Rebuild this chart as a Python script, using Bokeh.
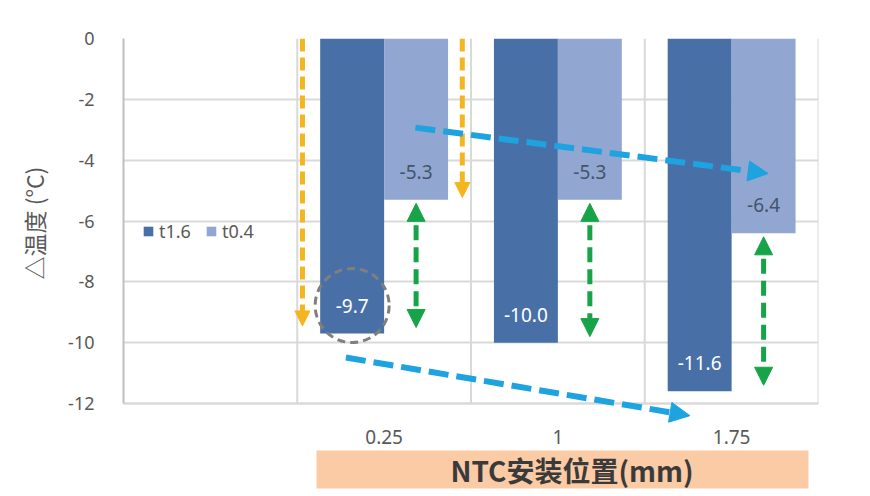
import numpy as np
from bokeh.plotting import figure
from bokeh.models import Range1d, FixedTicker, Arrow, NormalHead, Label, BoxAnnotation, Title
from bokeh.core.properties import value
from bokeh.embed import file_html
from bokeh.resources import INLINE

# ---------------- data ----------------
categories = ["", "0.25", "1", "1.75"]
series_names = ["t1.6", "t0.4"]
t16 = [-9.7, -10.0, -11.6]
t04 = [-5.3, -5.3, -6.4]
y_ticks = [0, -2, -4, -6, -8, -10, -12]
y_tick_labels = ["0", "-2", "-4", "-6", "-8", "-10", "-12"]
x_title = "NTC安装位置(mm)"
y_title = "△温度 (°C)"

FONT = "Noto Sans"
CJK = "Noto Sans CJK SC"
C16 = "#4870A7"
C04 = "#91A7D1"
GRID = "#D9D9D9"
TXT = "#595959"

n = len(categories)
cat_center = np.arange(n) + 0.5          # category i spans [i, i+1]
data_center = cat_center[1:]
bw = 0.368
x16 = data_center - bw / 2
x04 = data_center + bw / 2

# layout (page pixels): frame top, value-axis bottom (-12), frame bottom
W, H = 862, 494
FRAME_TOP, AXIS_Y, FRAME_BOT = 38, 403, 494
BOX_TOP, BOX_BOT = 450, 488
y_min, y_max = min(y_ticks), max(y_ticks)
ppu = (AXIS_Y - FRAME_TOP) / (y_max - y_min)
y_start = y_min - (FRAME_BOT - AXIS_Y) / ppu

p = figure(width=W, height=H, x_range=Range1d(0, n), y_range=Range1d(y_start, y_max),
           output_backend="svg", toolbar_location=None,
           min_border_left=123, min_border_right=44, min_border_top=FRAME_TOP,
           min_border_bottom=H - FRAME_BOT)
p.background_fill_color = "white"
p.border_fill_color = "white"
p.outline_line_color = None

# vertical category gridlines (between categories + right edge)
vx = list(range(1, n + 1))
p.segment(x0=vx, y0=[y_min] * len(vx), x1=vx, y1=[y_max] * len(vx),
          line_color=GRID, line_width=2, level="underlay")

# bars
p.vbar(x=x16, top=0, bottom=t16, width=bw, fill_color=C16, line_color=None, legend_label=series_names[0])
p.vbar(x=x04, top=0, bottom=t04, width=bw, fill_color=C04, line_color=None, legend_label=series_names[1])

# data labels
p.text(x=x16, y=t16, text=[f"{v:.1f}" for v in t16], y_offset=-28, text_align="center",
       text_baseline="middle", text_color="white", text_font=value(FONT), text_font_size="19px")
p.text(x=x04, y=t04, text=[f"{v:.1f}" for v in t04], y_offset=-28, text_align="center",
       text_baseline="middle", text_color="#44546A", text_font=value(FONT), text_font_size="19px")

# dashed circle around first t1.6 label
p.scatter(x=[x16[0]], y=[t16[0] + 28 / ppu], size=74, marker="circle", fill_color=None,
          line_color="#7F7F7F", line_width=3, line_dash="8 5")

# axes
p.yaxis.ticker = FixedTicker(ticks=y_ticks)
p.yaxis.bounds = (y_min, y_max)
p.yaxis.major_label_overrides = {t: l for t, l in zip(y_ticks, y_tick_labels)}
p.yaxis.major_tick_line_color = None
p.yaxis.minor_tick_line_color = None
p.yaxis.axis_line_color = "#BFBFBF"
p.yaxis.axis_line_width = 2
p.yaxis.major_label_text_font = FONT
p.yaxis.major_label_text_font_size = "18px"
p.yaxis.major_label_text_color = TXT
p.yaxis.major_label_standoff = 23

# y-axis title as a side title (lets it be positioned along the value axis)
p.add_layout(Title(text=y_title, align="left", offset=FRAME_BOT - 279, vertical_align="middle",
                   standoff=28, text_font=CJK, text_font_style="normal",
                   text_font_size="23px", text_color=TXT), "left")

x_ticks = [float(c) for c in data_center]
p.xaxis.fixed_location = y_min
p.xaxis.ticker = FixedTicker(ticks=x_ticks)
p.xaxis.major_label_overrides = {t: l for t, l in zip(x_ticks, categories[1:])}
p.xaxis.major_tick_line_color = None
p.xaxis.minor_tick_line_color = None
p.xaxis.axis_line_color = GRID
p.xaxis.axis_line_width = 2
p.xaxis.major_label_text_font = FONT
p.xaxis.major_label_text_font_size = "19px"
p.xaxis.major_label_text_color = TXT
p.xaxis.major_label_standoff = 20

p.ygrid.grid_line_color = GRID
p.ygrid.grid_line_width = 2
p.xgrid.visible = False

# legend
lg = p.legend[0]
lg.orientation = "horizontal"
lg.location = (19, 245 + (FRAME_BOT - 488))
lg.background_fill_alpha = 0
lg.border_line_alpha = 0
lg.padding = 0
lg.margin = 0
lg.spacing = 14
lg.glyph_width = 12
lg.glyph_height = 12
lg.label_standoff = 5
lg.label_text_font = FONT
lg.label_text_font_size = "18px"
lg.label_text_color = TXT

# arrows
def arrow(x0, y0, x1, y1, color, width, dash, size, both=False):
    def head():
        return NormalHead(size=size, fill_color=color, line_color=color, line_width=1)
    p.add_layout(Arrow(x_start=x0, y_start=y0, x_end=x1, y_end=y1, line_color=color,
                       line_width=width, line_dash=dash, end=head(),
                       start=head() if both else None))

ORANGE = "#F5B51E"
GREEN = "#17A449"
BLUE = "#1CA3E0"
arrow(1.03, 0, 1.03, t16[0] + 0.25, ORANGE, 5, "13 6", 15)
arrow(1.95, 0, 1.95, t04[0] + 0.07, ORANGE, 5, "13 6", 15)
for xc, a, b in zip(x04, t04, t16):
    arrow(xc, a - 0.12, xc, b + 0.2, GREEN, 5, "15 7", 18, both=True)
arrow(1.68, -2.93, 3.71, -4.44, BLUE, 6, "20 8", 20)
arrow(1.28, -10.49, 3.26, -12.4, BLUE, 6, "20 8", 20)

# x-axis title box (screen units, relative to frame bottom-left)
p.add_layout(BoxAnnotation(left=193, right=685, top=FRAME_BOT - BOX_TOP, bottom=FRAME_BOT - BOX_BOT,
                           left_units="screen", right_units="screen",
                           top_units="screen", bottom_units="screen",
                           fill_color="#FBCBA5", fill_alpha=1, line_color=None))
p.add_layout(Label(x=327, y=FRAME_BOT - (BOX_TOP + BOX_BOT) / 2, x_units="screen", y_units="screen",
                   text=x_title, text_font=CJK, text_font_style="bold", text_font_size="28px",
                   text_color="#3A3A3A", text_align="left", text_baseline="middle"))

open("out.html", "w").write(file_html(p, INLINE))
